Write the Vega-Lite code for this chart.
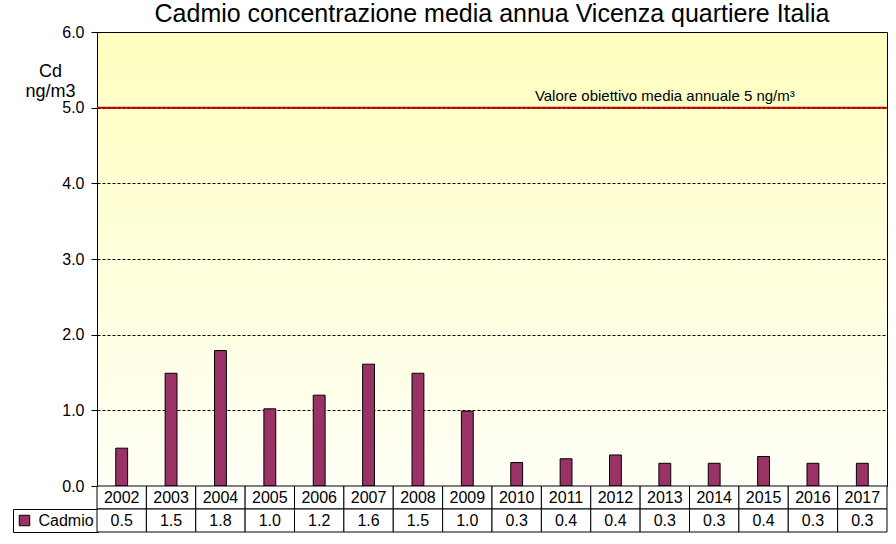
{
  "$schema": "https://vega.github.io/schema/vega-lite/v6.json",
  "background": "white",
  "padding": {"left": 12, "top": 1, "right": 9, "bottom": 10},
  "config": {"font": "Liberation Sans"},
  "bounds": "flush",
  "spacing": 0,
  "datasets": {
    "cadmio": [
      {"anno": "2002", "valore": 0.5},
      {"anno": "2003", "valore": 1.49},
      {"anno": "2004", "valore": 1.79},
      {"anno": "2005", "valore": 1.02},
      {"anno": "2006", "valore": 1.2},
      {"anno": "2007", "valore": 1.61},
      {"anno": "2008", "valore": 1.49},
      {"anno": "2009", "valore": 0.99},
      {"anno": "2010", "valore": 0.31},
      {"anno": "2011", "valore": 0.36},
      {"anno": "2012", "valore": 0.41},
      {"anno": "2013", "valore": 0.3},
      {"anno": "2014", "valore": 0.3},
      {"anno": "2015", "valore": 0.39},
      {"anno": "2016", "valore": 0.3},
      {"anno": "2017", "valore": 0.3}
    ],
    "obiettivo": [
      {"valore": 5, "etichetta": "Valore obiettivo media annuale 5 ng/m³"}
    ]
  },
  "resolve": {"scale": {"fill": "independent"}, "legend": {"fill": "independent"}},
  "vconcat": [
    {
      "width": 790,
      "height": 454,
      "title": {
        "text": "Cadmio concentrazione media annua Vicenza quartiere Italia",
        "fontSize": 25,
        "fontWeight": "normal",
        "font": "Liberation Sans",
        "color": "black",
        "anchor": "middle",
        "frame": "group",
        "offset": -3
      },
      "view": {
        "stroke": "black",
        "strokeWidth": 1,
        "fill": {
          "gradient": "linear",
          "x1": 0, "y1": 0, "x2": 0, "y2": 1,
          "stops": [
            {"offset": 0, "color": "#FFFFC0"},
            {"offset": 1, "color": "#FFFFF6"}
          ]
        }
      },
      "layer": [
        {
          "data": {"name": "cadmio"},
          "mark": {"type": "bar", "stroke": "black", "strokeWidth": 1, "width": {"band": 0.24}},
          "encoding": {
            "x": {"field": "anno", "type": "nominal", "scale": {"paddingInner": 0, "paddingOuter": 0}, "axis": null},
            "y": {
              "field": "valore",
              "type": "quantitative",
              "scale": {"domain": [0, 6], "nice": false, "zero": true},
              "axis": {
                "values": [0, 1, 2, 3, 4, 5, 6],
                "format": ".1f",
                "labelFontSize": 16,
                "labelColor": "black",
                "labelPadding": 7,
                "tickSize": 6,
                "tickColor": "black",
                "domainColor": "black",
                "grid": true,
                "gridColor": "black",
                "gridDash": [3, 2],
                "gridWidth": 1,
                "gridOpacity": 1,
                "title": ["Cd", "ng/m3"],
                "titleAngle": 0,
                "titleFontSize": 18,
                "titleFontWeight": "normal",
                "titleColor": "black",
                "titleAlign": "center",
                "titleBaseline": "top",
                "titleLineHeight": 20,
                "titleX": -47,
                "titleY": 30
              }
            },
            "fill": {
              "datum": "Cadmio",
              "type": "nominal",
              "scale": {"range": ["#993366"]},
              "legend": {
                "orient": "none",
                "legendX": -84,
                "legendY": 477,
                "title": null,
                "symbolType": "square",
                "symbolSize": 110,
                "symbolStrokeWidth": 1,
                "symbolStrokeColor": "black",
                "labelFontSize": 16,
                "labelFont": "Liberation Sans",
                "labelColor": "black",
                "labelOffset": 6,
                "padding": 3.5,
                "strokeColor": "black",
                "fillColor": "white",
                "labelExpr": "datum.label + ' '"
              }
            }
          }
        },
        {
          "data": {"name": "obiettivo"},
          "mark": {"type": "rule", "color": "#C00000", "strokeWidth": 2},
          "encoding": {"y": {"field": "valore", "type": "quantitative"}}
        },
        {
          "data": {"name": "obiettivo"},
          "mark": {"type": "text", "fontSize": 15, "baseline": "alphabetic", "align": "center", "dy": -7, "color": "black"},
          "encoding": {
            "x": {"datum": "2013", "type": "nominal"},
            "y": {"field": "valore", "type": "quantitative"},
            "text": {"field": "etichetta"}
          }
        }
      ]
    },
    {
      "width": 790,
      "height": 46,
      "data": {"name": "cadmio"},
      "view": {"stroke": null},
      "encoding": {
        "x": {"field": "anno", "type": "nominal", "scale": {"paddingInner": 0, "paddingOuter": 0}, "axis": null}
      },
      "layer": [
        {
          "mark": {"type": "rect", "fill": "white", "stroke": "black", "strokeWidth": 1},
          "encoding": {
            "y": {"datum": "anni", "type": "nominal", "scale": {"domain": ["anni", "Cadmio"], "paddingInner": 0, "paddingOuter": 0}, "axis": null}
          }
        },
        {
          "mark": {"type": "text", "fontSize": 16, "color": "black"},
          "encoding": {
            "y": {"datum": "anni", "type": "nominal", "axis": null},
            "text": {"field": "anno"}
          }
        },
        {
          "mark": {"type": "rect", "fill": "white", "stroke": "black", "strokeWidth": 1},
          "encoding": {
            "y": {"datum": "Cadmio", "type": "nominal", "axis": null}
          }
        },
        {
          "mark": {"type": "text", "fontSize": 16, "color": "black"},
          "encoding": {
            "y": {"datum": "Cadmio", "type": "nominal", "axis": null},
            "text": {"field": "valore", "type": "quantitative", "format": ".1f"}
          }
        }
      ]
    }
  ]
}
